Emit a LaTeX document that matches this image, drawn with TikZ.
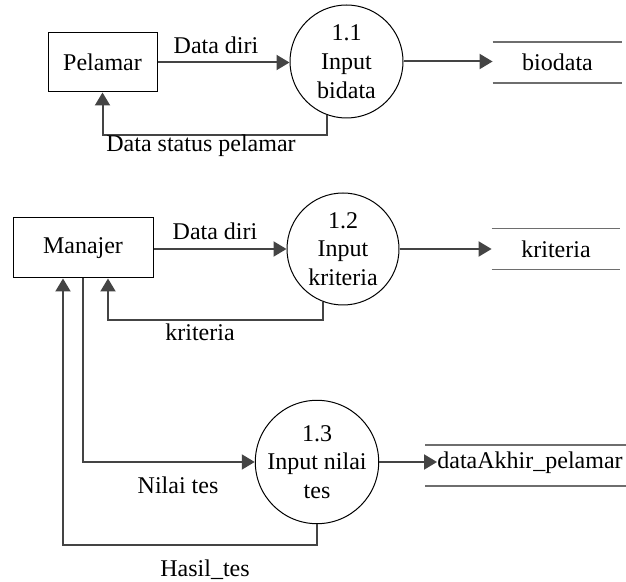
\documentclass[tikz,border=0pt]{standalone}
\usepackage{fontspec}
\setmainfont{Liberation Serif}
\usetikzlibrary{arrows.meta,calc}
\definecolor{flowgray}{HTML}{444444}
\definecolor{storegray}{HTML}{6E6E6E}
\begin{document}
\begin{tikzpicture}[x=0.5pt,y=-0.5pt,
  every node/.style={font=\fontsize{12}{14.4}\selectfont},
  entity/.style={draw=black, line width=0.5pt, rectangle, inner sep=0pt},
  process/.style={draw=black, line width=0.5pt, circle, inner sep=0pt, minimum size=56.5pt, align=center},
  store/.style={inner sep=0pt, minimum height=20pt},
  storeline/.style={draw=storegray, line width=0.7pt},
  flow/.style={draw=flowgray, line width=1pt, -{Triangle[length=6.5pt,width=7.5pt]}},
  lbl/.style={inner sep=0pt}]
\useasboundingbox (0,0) rectangle (626,582);

% ---- group 1
\node[entity, minimum width=54.5pt, minimum height=29.5pt] (pel) at (102.5,62.5) {Pelamar};
\node[process] (p11) at (346.5,61.5) {1.1\\Input\\bidata};
\node[store, minimum width=64.5pt] (ds1) at (557.5,62.5) {biodata};
\draw[storeline] (ds1.north west) -- (ds1.north east) (ds1.south west) -- (ds1.south east);

\draw[flow] (pel.east) -- (pel.east -| p11.west);
\coordinate (y1) at (102.5,135);
\draw[flow] (p11.-110) |- (y1) -- (pel.south);
\draw[flow] (p11.east) -- (p11.east -| ds1.west);
\node[lbl] (l1) at (216,45) {Data diri};
\node[lbl] (l2) at (201,146) {Data status pelamar};

% ---- group 2
\node[entity, minimum width=70pt, minimum height=30pt] (man) at (83,248) {Manajer};
\node[process, minimum size=56pt] (p12) at (343,249) {1.2\\Input\\kriteria};
\node[store, minimum width=64pt] (ds2) at (556,249) {kriteria};
\draw[storeline] (ds2.north west) -- (ds2.north east) (ds2.south west) -- (ds2.south east);

\draw[flow] (man.east |- p12.west) -- (p12.west);
\coordinate (k1) at (108,320);
\draw[flow] (p12.-111) |- (k1) -- (k1 |- man.south);
\draw[flow] (p12.east) -- (p12.east -| ds2.west);
\node[lbl] (l3) at (215,231) {Data diri};
\node[lbl] (l4) at (200,332) {kriteria};

% ---- group 3
\node[process, minimum size=56pt] (p13) at (317,462) {1.3\\Input nilai\\tes};
\node[lbl, anchor=west] (ds3) at (437,463) {dataAkhir\_pelamar};
\draw[storeline] ([shift={(-12,-18)}]ds3.west) -- ++(201,0)
                 ([shift={(-12,23)}]ds3.west) -- ++(201,0);

\draw[flow] (man.south) |- (p13.west);
\coordinate (h1) at (63,545);
\draw[flow] (p13.south) |- (h1) -- (h1 |- man.south);
\draw[flow] (p13.east) -- (p13.east -| ds3.west);
\node[lbl] (l5) at (178,485) {Nilai tes};
\node[lbl] (l6) at (205,570) {Hasil\_tes};
\end{tikzpicture}
\end{document}
